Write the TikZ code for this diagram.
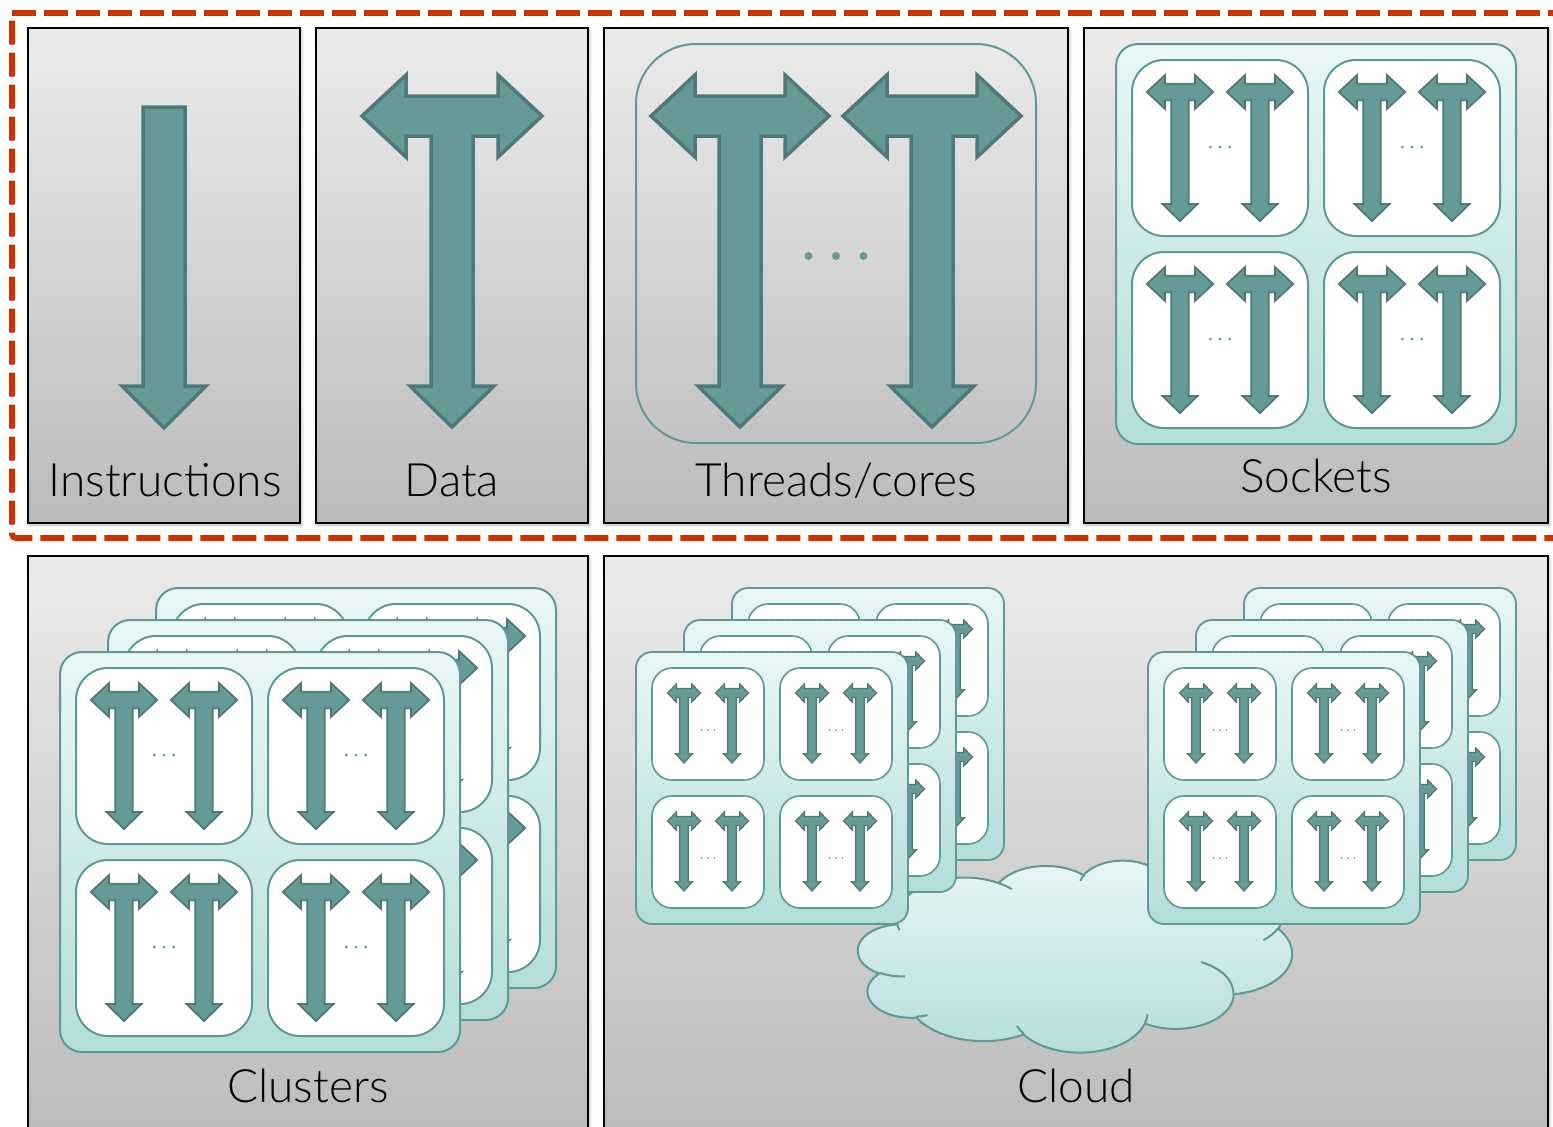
\documentclass[tikz,border=0pt]{standalone}
\usepackage{fontspec}
\newfontfamily\labelfont{Lato Light}
\usetikzlibrary{shadows.blur}

\definecolor{panelTop}{HTML}{EBEBEB}
\definecolor{panelBot}{HTML}{BBBBBB}
\definecolor{arrowFill}{HTML}{669A98}
\definecolor{arrowLine}{HTML}{4D7A78}
\definecolor{tealLine}{HTML}{5F9896}
\definecolor{cardTop}{HTML}{E9F6F6}
\definecolor{cardBot}{HTML}{B2DEDC}
\definecolor{scopeRed}{HTML}{CC3300}

\tikzset{
  panel/.style={draw=black, line width=2pt, top color=panelTop, bottom color=panelBot,
    blur shadow={shadow xshift=1.5pt, shadow yshift=-2pt, shadow blur radius=3pt, shadow opacity=30}},
  tarrow/.style={fill=arrowFill, draw=arrowLine, line join=miter},
  card/.style={draw=tealLine, line width=2pt, top color=cardTop, bottom color=cardBot},
  cell/.style={draw=tealLine, line width=2pt, fill=white},
  cloudshape/.style={draw=tealLine, line width=2pt, top color=cardTop, bottom color=cardBot},
  lbl/.style={font=\labelfont\fontsize{46}{50}\selectfont, anchor=base, inner sep=0pt},
  redframe/.style={draw=scopeRed, line width=6pt, dash pattern=on 24pt off 8pt},
}

% T-shaped arrow: horizontal double arrow on top of a downward arrow
% #1,#2 centre of the horizontal bar, #3,#4 scale, #5 outline width,
% #6 half length of the horizontal arrow
\newcommand\tbar[6]{%
  \begin{scope}[shift={(#1,#2)}, xscale=#3, yscale=#4]
    \draw[tarrow, line width=#5] (-#6,0) -- (-#6+44,-41) -- (-#6+44,-20) -- (#6-44,-20)
      -- (#6-44,-41) -- (#6,0) -- (#6-44,41) -- (#6-44,20) -- (21,20) -- (21,270)
      -- (42,270) -- (0,311) -- (-42,270) -- (-21,270) -- (-21,20) -- (-#6+44,20)
      -- (-#6+44,41) -- cycle;
  \end{scope}}

% three dots: centre x, y, spacing, radius
\newcommand\dotrow[4]{%
  \fill[arrowFill] (#1,#2) ++(-#3,0) circle[radius=#4] ++(#3,0) circle[radius=#4]
    ++(#3,0) circle[radius=#4];}

% one core cell with two threads
\newcommand\bigcell[2]{%
  \draw[cell, rounded corners=32pt] (#1,#2) rectangle ++(176,176);
  \tbar{#1+48}{#2+32}{0.415}{0.415}{1.8pt}{80}
  \tbar{#1+128}{#2+32}{0.415}{0.415}{1.8pt}{80}
  \dotrow{#1+88}{#2+87}{9.5}{1.5}}

\newcommand\smallcell[2]{%
  \draw[cell, line width=1.6pt, rounded corners=20pt] (#1,#2) rectangle ++(112,112);
  \tbar{#1+32}{#2+25}{0.2}{0.225}{1.2pt}{82}
  \tbar{#1+80}{#2+25}{0.2}{0.225}{1.2pt}{82}
  \dotrow{#1+56}{#2+62}{6.7}{1}}

% a socket: four cells on a tinted card
\newcommand\bigcard[2]{%
  \draw[card, rounded corners=22pt] (#1,#2) rectangle ++(400,400);
  \bigcell{#1+16}{#2+16}\bigcell{#1+208}{#2+16}%
  \bigcell{#1+16}{#2+208}\bigcell{#1+208}{#2+208}}

\newcommand\smallcard[2]{%
  \draw[card, line width=1.8pt, rounded corners=16pt] (#1,#2) rectangle ++(272,272);
  \smallcell{#1+16}{#2+16}\smallcell{#1+144}{#2+16}%
  \smallcell{#1+16}{#2+144}\smallcell{#1+144}{#2+144}}

\begin{document}
\begin{tikzpicture}[x=1pt, y=-1pt]
\useasboundingbox (0,0) rectangle (1553,1127);
\clip (0,0) rectangle (1553,1127);

% ---------- top row ----------
\draw[panel] (28,28) rectangle (300,523);
\draw[panel] (316,28) rectangle (588,523);
\draw[panel] (604,28) rectangle (1068,523);
\draw[panel] (1084,28) rectangle (1548,523);

% instructions
\draw[tarrow, line width=3.5pt] (143,107) -- (185,107) -- (185,386) -- (206,386)
  -- (164,428) -- (122,386) -- (143,386) -- cycle;
\node[lbl] (instr) at (165,496) {Instructions};

% data
\tbar{452}{116}{1}{1}{3.5pt}{90}
\node[lbl] (data) at (452,496) {Data};

% threads / cores
\draw[draw=tealLine, line width=2pt, rounded corners=60pt] (636,44) rectangle (1036,443);
\tbar{740}{116}{1}{1}{3.5pt}{89}
\tbar{932}{116}{1}{1}{3.5pt}{89}
\dotrow{836}{256}{27.5}{4}
\node[lbl] (threads) at (836,496) {Threads/cores};

% sockets
\bigcard{1116}{44}
\node[lbl] (sockets) at (1316,492) {Sockets};

% dashed frame round the top row
\draw[redframe] (12,12.5) -- (1570,12.5);
\draw[redframe, dash phase=24pt, rounded corners=4pt] (12,12.5) -- (12,538) -- (1570,538);

% ---------- bottom row ----------
\draw[panel] (28,556) rectangle (588,1140);
\draw[panel] (604,556) rectangle (1548,1140);

% clusters
\bigcard{156}{588}
\bigcard{108}{620}
\bigcard{60}{652}
\node[lbl] (clusters) at (308,1102) {Clusters};

% cloud
\begin{scope}[shift={(858,860)}, xscale=0.10046, yscale=0.04444]
  \draw[cloudshape] (390,1437)
    \foreach \w/\h/\s/\d [evaluate={\s as \ta using atan2((\w)*sin(\s),(\h)*cos(\s))},
                          evaluate={\s as \tb using atan2((\w)*sin(\s+\d),(\h)*cos(\s+\d))},
                          evaluate={\d as \dt using (\tb)-(\ta)+360*round(((\d)-(\tb)+(\ta))/360)}]
    in {675.3/919.0/-190.4875/123.7805, 533.3/726.7/-144.1024/89.9452,
        436.5/594.5/-145.8079/99.7230, 485.7/659.5/-130.9861/117.2417,
        533.3/727.3/-78.7089/109.0269, 677.5/922.0/-46.2673/130.2690,
        578.5/786.7/0.6250/114.0333, 675.2/921.5/22.4516/115.1726,
        772.0/1054.3/66.2426/75.7110, 436.0/591.8/-274.9421/146.7356,
        434.5/594.5/-246.8285/152.5189}
    { arc[start angle=\ta, delta angle=\dt, x radius=\w, y radius=\h] } -- cycle;
  \draw[draw=tealLine, line width=2pt]
    \foreach \x/\y/\w/\h/\s/\d [evaluate={\s as \ta using atan2((\w)*sin(\s),(\h)*cos(\s))},
                          evaluate={\s as \tb using atan2((\w)*sin(\s+\d),(\h)*cos(\s+\d))},
                          evaluate={\d as \dt using (\tb)-(\ta)+360*round(((\d)-(\tb)+(\ta))/360)}]
    in {469.3/2617.7/434.5/594.5/86.7420/26.4295,
        692.8/3489.9/436.0/591.8/73.6105/11.4475,
        1647.8/3909.0/675.2/921.5/137.6242/14.0811,
        2882.7/3475.1/675.2/921.5/6.4533/15.9984,
        3412.9/2295.4/578.5/786.7/-70.2924/70.9174,
        4179.8/1535.4/533.3/727.3/30.3180/27.7515,
        3832.4/542.6/485.7/659.5/-13.7443/14.8576,
        2907.8/395.2/485.7/659.5/-149.1815/18.1954,
        2214.1/472.0/436.5/594.5/-163.4943/17.6864,
        1400.0/519.2/675.3/919.0/-66.7070/12.3194,
        412.7/1578.9/675.3/919.0/157.6544/11.8582}
    { (\x,\y) arc[start angle=\ta, delta angle=\dt, x radius=\w, y radius=\h] };
\end{scope}

\smallcard{732}{588}
\smallcard{684}{620}
\smallcard{636}{652}
\smallcard{1244}{588}
\smallcard{1196}{620}
\smallcard{1148}{652}
\node[lbl] (cloud) at (1076,1102) {Cloud};
\end{tikzpicture}
\end{document}
